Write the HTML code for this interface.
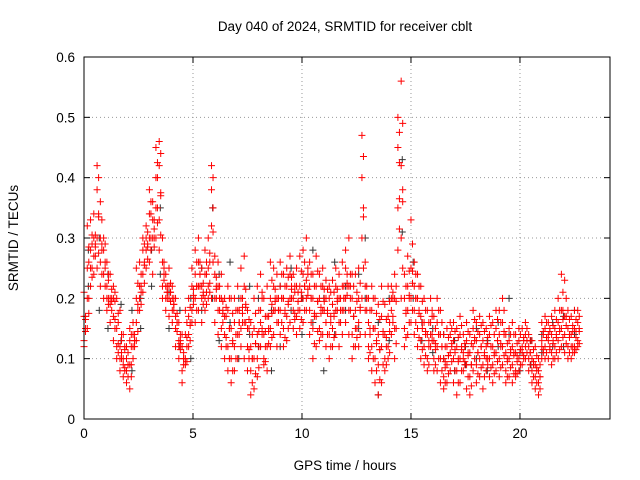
<!DOCTYPE html>
<html><head><meta charset="utf-8"><style>
body{margin:0;background:#fff;}
svg{display:block;font-family:"Liberation Sans",sans-serif;}
</style></head><body>
<svg id="c" width="640" height="480">
<text x="345" y="31" text-anchor="middle" font-size="13.5">Day 040 of 2024, SRMTID for receiver cblt</text>
<text x="345" y="470" text-anchor="middle" font-size="13.5">GPS time / hours</text>
<text transform="translate(18,238) rotate(-90)" text-anchor="middle" font-size="13.5">SRMTID / TECUs</text>
<g id="grid"></g><g id="black"></g><g id="red"></g>
<rect x="84" y="57" width="526" height="362" fill="none" stroke="#000"/>
</svg>
<script>
const xTicks=[0,5,10,15,20];
const yTicks=[0,0.1,0.2,0.3,0.4,0.5,0.6];
const yTickLabels=["0","0.1","0.2","0.3","0.4","0.5","0.6"];
const redRows=[
[0.0,.13,.17,.12,.21],[0.15,.25,.32,.2,.15],[0.3,.25,.33,.28,.22],[0.45,.3,.24,.34,.27],[0.6,.42,.38,.3,.25],[0.75,.3,.26,.22,.36],[0.9,.28,.3,.2,.24],[1.05,.2,.18,.22,.26],[1.2,.2,.16,.24,.19],[1.35,.13,.2,.22,.17],[1.5,.1,.15,.2,.12],[1.65,.08,.12,.1,.18],[1.8,.07,.1,.14,.09],[1.95,.06,.12,.1,.08],[2.1,.05,.13,.15,.09],[2.25,.1,.16,.12,.14],[2.4,.16,.2,.25,.13],[2.55,.22,.26,.18,.2],[2.7,.24,.28,.3,.21],[2.85,.3,.32,.25,.28],[3.0,.34,.38,.3,.26],[3.15,.33,.3,.36,.24],[3.3,.4,.45,.35,.3],[3.45,.46,.42,.33,.28],[3.6,.3,.22,.26,.2],[3.75,.2,.24,.18,.22],[3.9,.2,.25,.17,.22],[4.05,.18,.22,.16,.2],[4.2,.15,.2,.12,.17],[4.35,.13,.1,.16,.12],[4.5,.08,.12,.06,.14],[4.65,.1,.14,.18,.09],[4.8,.14,.17,.2,.12],[4.95,.16,.22,.18,.25],[5.1,.2,.24,.28,.16],[5.25,.22,.3,.18,.26],[5.4,.2,.25,.16,.22],[5.55,.24,.28,.2,.18],[5.7,.3,.25,.2,.22],[5.85,.42,.38,.32,.2],[6.0,.2,.24,.16,.27],[6.15,.18,.22,.14,.26],[6.3,.2,.15,.24,.12],[6.45,.1,.14,.2,.17],[6.6,.08,.12,.18,.22],[6.75,.06,.1,.15,.2],[6.9,.12,.16,.2,.08],[7.05,.14,.18,.1,.22],[7.2,.2,.15,.25,.12],[7.35,.16,.22,.1,.27],[7.5,.08,.12,.18,.15],[7.65,.04,.08,.12,.16],[7.8,.05,.1,.15,.2],[7.95,.1,.14,.22,.07],[8.1,.12,.18,.24,.16],[8.25,.1,.14,.2,.09],[8.4,.12,.17,.08,.22],[8.55,.15,.2,.26,.12],[8.7,.18,.22,.14,.25],[8.85,.2,.16,.24,.12],[9.0,.14,.18,.22,.26],[9.15,.15,.2,.24,.12],[9.3,.17,.22,.25,.13],[9.45,.2,.24,.16,.27],[9.6,.15,.2,.24,.18],[9.75,.22,.17,.25,.14],[9.9,.18,.22,.27,.15],[10.05,.16,.2,.24,.28],[10.2,.2,.23,.18,.3],[10.35,.14,.18,.22,.26],[10.5,.1,.15,.2,.24],[10.65,.12,.17,.22,.27],[10.8,.15,.2,.24,.13],[10.95,.18,.22,.14,.25],[11.1,.12,.16,.2,.23],[11.25,.1,.14,.2,.22],[11.4,.15,.19,.23,.12],[11.55,.18,.22,.14,.25],[11.7,.2,.16,.24,.12],[11.85,.22,.18,.26,.14],[12.0,.2,.25,.16,.28],[12.15,.18,.22,.14,.3],[12.3,.1,.14,.2,.24],[12.45,.12,.18,.24,.15],[12.6,.16,.2,.25,.12],[12.75,.3,.4,.47,.2],[12.9,.18,.22,.14,.26],[13.05,.12,.16,.2,.1],[13.2,.08,.12,.18,.22],[13.35,.06,.1,.15,.2],[13.5,.04,.09,.14,.19],[13.65,.06,.12,.17,.22],[13.8,.1,.14,.19,.08],[13.95,.12,.17,.22,.1],[14.1,.14,.18,.22,.2],[14.25,.15,.24,.2,.1],[14.4,.35,.5,.45,.28],[14.55,.56,.42,.3,.2],[14.7,.15,.2,.24,.12],[14.85,.18,.22,.27,.14],[15.0,.2,.25,.33,.16],[15.15,.14,.18,.22,.26],[15.3,.15,.2,.24,.12],[15.45,.13,.17,.22,.1],[15.6,.12,.16,.2,.09],[15.75,.1,.14,.18,.08],[15.9,.12,.16,.2,.14],[16.05,.1,.13,.17,.08],[16.2,.08,.12,.16,.2],[16.35,.06,.1,.14,.18],[16.5,.07,.1,.14,.05],[16.65,.06,.09,.12,.15],[16.8,.08,.11,.14,.16],[16.95,.06,.1,.13,.16],[17.1,.04,.08,.12,.15],[17.25,.06,.1,.14,.17],[17.4,.08,.11,.14,.1],[17.55,.05,.09,.13,.16],[17.7,.04,.07,.11,.14],[17.85,.08,.12,.15,.18],[18.0,.09,.13,.16,.06],[18.15,.07,.1,.14,.17],[18.3,.05,.09,.13,.16],[18.45,.08,.12,.15,.1],[18.6,.1,.14,.17,.07],[18.75,.09,.12,.16,.06],[18.9,.11,.15,.18,.08],[19.05,.1,.14,.18,.07],[19.2,.12,.16,.2,.09],[19.35,.08,.11,.14,.06],[19.5,.07,.1,.13,.15],[19.65,.06,.09,.12,.16],[19.8,.08,.11,.14,.07],[19.95,.1,.13,.15,.08],[20.1,.09,.12,.15,.11],[20.25,.12,.14,.16,.1],[20.4,.08,.1,.12,.14],[20.55,.06,.08,.1,.13],[20.7,.05,.07,.09,.12],[20.85,.04,.06,.08,.1],[21.0,.1,.13,.16,.12],[21.15,.12,.15,.17,.1],[21.3,.1,.13,.16,.14],[21.45,.11,.14,.17,.09],[21.6,.12,.15,.18,.1],[21.75,.1,.13,.16,.2],[21.9,.12,.15,.18,.24],[22.05,.11,.14,.17,.23],[22.2,.12,.15,.18,.1],[22.35,.1,.14,.17,.12],[22.5,.12,.15,.18,.11],[22.65,.13,.16,.18,.12]];
const blackRows=[
[0.2,.22,.28],[0.7,.3,.18],[1.1,.24,.15],[1.7,.13,.19],[2.2,.08,.18],[2.6,.2,.15],[3.1,.28,.22],[3.5,.35,.24],[3.9,.21,.15],[4.4,.12,.18],[4.9,.2,.1],[5.4,.25,.18],[5.9,.35,.2],[6.2,.24,.13],[6.7,.16,.26],[7.1,.2,.1],[7.6,.14,.22],[8.0,.12,.2],[8.6,.08,.18],[9.0,.22,.12],[9.5,.18,.25],[10.0,.2,.14],[10.5,.28,.16],[11.0,.08,.2],[11.5,.26,.14],[12.0,.18,.22],[12.6,.15,.24],[12.9,.3,.2],[13.5,.04,.16],[14.0,.13,.2],[14.6,.31,.43],[15.1,.26,.2],[15.5,.16,.13],[16.0,.11,.15],[16.5,.1,.14],[17.0,.08,.13],[17.5,.12,.09],[18.0,.1,.15],[18.5,.13,.08],[19.0,.12,.16],[19.5,.14,.2],[20.0,.11,.08],[20.5,.09,.13],[21.0,.14,.11],[21.5,.16,.12],[22.0,.12,.17],[22.5,.14,.18]];
const NS="http://www.w3.org/2000/svg";
const X0=84,X1=610,Y0=419,Y1=57,XMAX=24.13,YMAX=0.6;
function sx(h){return X0+(X1-X0)*h/XMAX;}
function sy(v){return Y0-(Y0-Y1)*v/YMAX;}
function mk(tag,attrs,parent){const e=document.createElementNS(NS,tag);for(const k in attrs)e.setAttribute(k,attrs[k]);parent.appendChild(e);return e;}
const grid=document.getElementById('grid');
xTicks.forEach(t=>{
  const x=sx(t);
  if(t>0){const l=mk('line',{x1:x,x2:x,y1:Y1,y2:Y0,stroke:'#999','stroke-dasharray':'1,3'},grid);
  
  }
  mk('line',{x1:x,x2:x,y1:Y0,y2:Y0-6,stroke:'#000'},grid);
  mk('line',{x1:x,x2:x,y1:Y1,y2:Y1+6,stroke:'#000'},grid);
  const tx=mk('text',{x:x,y:Y0+19,'text-anchor':'middle','font-size':13.5},grid);
  tx.textContent=t;
  
  
});
yTicks.forEach((t,i)=>{
  const y=sy(t);
  if(i>0&&i<yTicks.length-1){const l=mk('line',{x1:X0,x2:X1,y1:y,y2:y,stroke:'#999','stroke-dasharray':'1,3'},grid);
  
  }
  mk('line',{x1:X0,x2:X0+6,y1:y,y2:y,stroke:'#000'},grid);
  mk('line',{x1:X1,x2:X1-6,y1:y,y2:y,stroke:'#000'},grid);
  const tx=mk('text',{x:X0-9,y:y+5,'text-anchor':'end','font-size':13.5},grid);
  tx.textContent=yTickLabels[i];
  
  
});
function plus(g,h,v,color,name){
  const x=sx(h),y=sy(v);
  const p=mk('path',{d:`M${x-3.5},${y}h7M${x},${y-3.5}v7`,stroke:color,'stroke-width':1,fill:'none'},g);
  
  
}
const bg=document.getElementById('black');
blackRows.forEach(r=>{for(let i=1;i<r.length;i++)plus(bg,r[0],r[i],'#333','black-point');});
const rg=document.getElementById('red');
redRows.forEach(r=>{for(let i=1;i<r.length;i++){plus(rg,r[0],r[i],'#f00','red-point');plus(rg,r[0]+0.07,(r[i]+r[(i%(r.length-1))+1])/2,'#f00','red-point');}});
</script>
</body></html>
